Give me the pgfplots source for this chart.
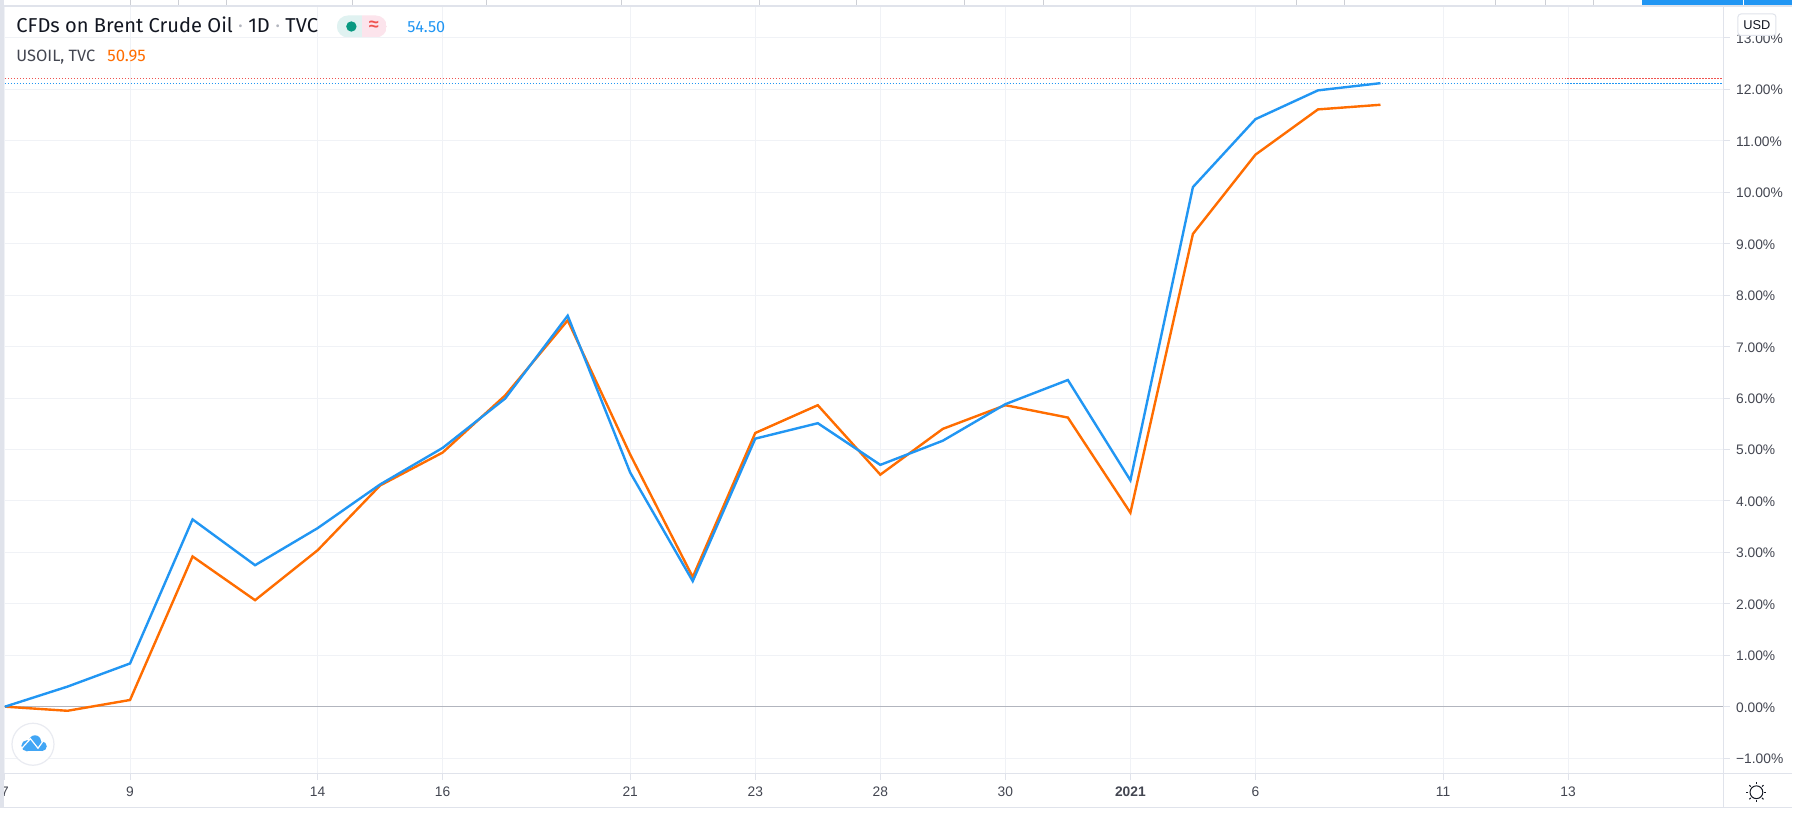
\documentclass[border=0pt]{standalone}
\usepackage{pgfplots}
\pgfplotsset{compat=1.18}
\usepackage{fontspec}
\setmainfont{Fira Sans}
\newfontfamily\tickfont{Liberation Sans}
\definecolor{tvblue}{HTML}{2196F3}
\definecolor{tvorange}{HTML}{FF6D00}
\definecolor{tvgrid}{HTML}{F0F2F6}
\definecolor{tvaxis}{HTML}{E0E3EB}
\definecolor{tvzero}{HTML}{B2B5BE}
\definecolor{tvtext}{HTML}{131722}
\definecolor{tvsoft}{HTML}{434651}
\definecolor{tvred}{HTML}{EF5350}
\definecolor{tvdot}{HTML}{B2B5BE}
\definecolor{tvteal}{HTML}{089981}
\definecolor{pillteal}{HTML}{E0F2F1}
\definecolor{pillpink}{HTML}{FCE4EC}
\pgfplotstableread{
i blue orange
0 0.00 0.00
1 0.39 -0.08
2 0.84 0.13
3 3.64 2.92
4 2.75 2.07
5 3.47 3.04
6 4.32 4.30
7 5.03 4.94
8 5.99 6.05
9 7.60 7.51
10 4.55 4.90
11 2.44 2.52
12 5.21 5.32
13 5.51 5.86
14 4.70 4.51
15 5.17 5.40
16 5.88 5.86
17 6.35 5.62
18 4.40 3.77
19 10.10 9.19
20 11.42 10.73
21 11.98 11.61
22 12.12 11.70
}\spread
\begin{document}
\begin{tikzpicture}
\begin{scope}[x=0.5pt,y=-0.5pt]
\path[use as bounding box,fill=white] (0,0) rectangle (1793,812);
\end{scope}
\begin{axis}[
  at={(2pt,-386.65pt)},anchor=south west,
  scale only axis,width=860.15pt,height=383.9pt,
  xmin=-0.016,xmax=27.49,ymin=-1.3,ymax=13.62,
  axis y line*=right,axis x line*=bottom,
  axis line style={color=tvaxis,line width=0.6pt,-},
  xtick={0,2,5,7,10,12,14,16,18,20,23,25},
  xticklabels={7,9,14,16,21,23,28,30,\textbf{2021},6,11,13},
  ytick={-1,0,...,13},
  yticklabels={−1.00\%,0.00\%,1.00\%,2.00\%,3.00\%,4.00\%,5.00\%,6.00\%,7.00\%,8.00\%,9.00\%,10.00\%,11.00\%,12.00\%,13.00\%},
  grid=major,
  major grid style={color=tvgrid,line width=0.5pt},
  tick style={color=tvaxis,line width=0.5pt},
  tick align=outside,
  major tick length=3pt,
  xticklabel style={font=\tickfont\fontsize{6.9}{8}\selectfont,text=tvsoft,inner sep=0pt,yshift=-6pt,anchor=mid},
  yticklabel style={font=\tickfont\fontsize{6.9}{8}\selectfont,text=tvsoft,inner sep=0pt,anchor=west,xshift=3pt,yshift=-0.4pt},
]
\addplot[color=tvzero,line width=0.6pt,forget plot] coordinates {(-0.016,0)(27.49,0)};
\addplot[color=tvred,line width=0.55pt,dash pattern=on 0.75pt off 0.75pt,forget plot] coordinates {(0,12.21)(27.49,12.21)};
\addplot[color=tvblue,line width=0.55pt,dash pattern=on 0.75pt off 0.75pt,forget plot] coordinates {(0,12.12)(27.49,12.12)};
\addplot[color=tvorange,line width=1.2pt] table[x=i,y=orange] {\spread};
\addplot[color=tvblue,line width=1.2pt] table[x=i,y=blue] {\spread};
\end{axis}
\begin{scope}[x=0.5pt,y=-0.5pt]
% frame
\fill[tvaxis] (0,0) rectangle (4,812);
\fill[white] (0,808) rectangle (1793,812);
\draw[tvaxis,line width=0.6pt] (4,5.5) -- (1793,5.5);
\draw[tvaxis,line width=0.6pt] (4,773.3) -- (1793,773.3);
\draw[tvaxis,line width=0.6pt] (4,807) -- (1793,807);
\draw[tvaxis,line width=0.6pt] (1724.3,5.5) -- (1724.3,807);
\foreach \x in {130,178,226,353,487,622,760,856.5,965,1044,1297,1345,1496,1546,1594}
  \draw[tvaxis!80!gray,line width=0.4pt] (\x,0) -- (\x,5);
\fill[tvblue] (1643,0) rectangle (1793,5);
\draw[white,line width=0.5pt] (1744,0) -- (1744,5);
% legend
\node[anchor=base west,inner sep=0pt,text=tvtext,font=\fontsize{10.05}{12}\selectfont] at (16,32.5) {CFDs on Brent Crude Oil\textcolor{tvdot}{~·~}1D\textcolor{tvdot}{~·~}TVC};
\node[anchor=base west,inner sep=0pt,text=tvsoft,font=\fontsize{8.2}{10}\selectfont] at (16,61) {USOIL, TVC};
\node[anchor=base west,inner sep=0pt,text=tvorange,font=\fontsize{8.4}{10}\selectfont] at (107,61) {50.95};
\node[anchor=base west,inner sep=0pt,text=tvblue,font=\fontsize{8.1}{10}\selectfont] at (407,32) {54.50};
% pill
\begin{scope}
\clip[rounded corners=5.5pt] (337,15) rectangle (387,37);
\fill[pillteal] (337,15) rectangle (362,37);
\fill[pillpink] (362,15) rectangle (387,37);
\end{scope}
\fill[tvteal] (351.5,26) circle[radius=2.6pt];
\node[text=tvred,inner sep=0pt,font=\tickfont\bfseries\fontsize{9}{9}\selectfont] at (374,25.5) {≈};
% USD box
\fill[white,draw=tvaxis,line width=0.5pt,rounded corners=1.5pt] (1738.5,13.5) rectangle (1776.5,35);
\node[text=tvtext,inner sep=0pt,font=\tickfont\fontsize{6.4}{8}\selectfont] at (1757.5,25) {USD};
% logo
\fill[white] (33,744) circle[radius=10.5pt];
\draw[tvaxis!70,line width=0.6pt] (33,744) circle[radius=10.5pt];
\fill[tvblue!85!white] (27,745.5) circle[radius=2.8pt];
\fill[tvblue!85!white] (35,741) circle[radius=3pt];
\fill[tvblue!85!white] (42,746) circle[radius=2.4pt];
\fill[tvblue!85!white] (26,745) rectangle (43,751);
\draw[white,line width=0.6pt] (20,750) -- (30.5,738.5) -- (38,748) -- (43,741);
% sun icon
\draw[tvtext,line width=0.5pt] (1757,792) circle[radius=3.2pt];
\foreach \a in {0,45,...,315}
  \draw[tvtext,line width=0.5pt] (1757,792) ++(\a:8) -- ++(\a:2);
\end{scope}
\end{tikzpicture}
\end{document}
